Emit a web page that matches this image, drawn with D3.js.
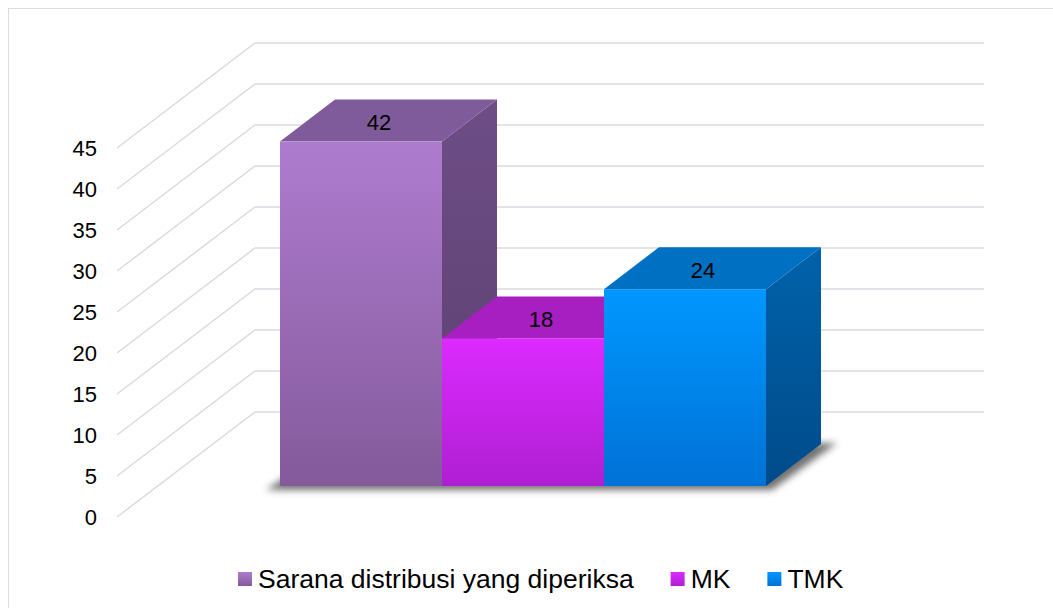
<!DOCTYPE html>
<html>
<head>
<meta charset="utf-8">
<script src="https://cdn.jsdelivr.net/npm/d3@7/dist/d3.min.js"></script>
<style>
  html, body { margin: 0; padding: 0; background: #fff; }
  svg { display: block; font-family: "Liberation Sans", Arial, sans-serif; }
</style>
</head>
<body>
<svg id="chart" width="1053" height="608"></svg>
<script>
// ---- data ----
const categories = ["Sarana distribusi yang diperiksa", "MK", "TMK"];
const values = [42, 18, 24];
const yTicks = [0, 5, 10, 15, 20, 25, 30, 35, 40, 45];

// ---- styling ----
const palette = [
  { front: ["#AE7CCF", "#845A9B"], top: "#805B9B", side: ["#6E4D86", "#5B406F"] },
  { front: ["#DC2AFF", "#AE1FD2"], top: "#A71EC1", side: ["#8C17A6", "#70118A"] },
  { front: ["#0097FF", "#0072D6"], top: "#0071C2", side: ["#0062AA", "#004B8A"] }
];

const svg = d3.select("#chart");
const defs = svg.append("defs");

// border
svg.append("rect").attr("x", 8.5).attr("y", 8.5).attr("width", 1100).attr("height", 700)
  .attr("fill", "none").attr("stroke", "#DCDCE2").attr("stroke-width", 1);

// scales
const h = d3.scaleLinear().domain([0, 45]).range([0, 369]);     // height in px
const wallFrontX = 117, wallBackX = 255, wallRightX = 984;
const wallFrontY0 = 517, wallBackY0 = 412;
const barFrontY0 = 486;
const barDepth = { dx: 55, dy: -42 };
const x = d3.scaleBand().domain(categories).range([280, 766]).padding(0);

// gridlines (side wall diagonal + back wall horizontal)
const grid = svg.append("g");
yTicks.forEach(t => {
  const yf = wallFrontY0 - h(t), yb = wallBackY0 - h(t);
  grid.append("path")
    .attr("d", `M${wallFrontX},${yf}L${wallBackX},${yb}L${wallRightX},${yb}`)
    .attr("fill", "none").attr("stroke", "#DADAE2").attr("stroke-width", 1.5);
});

// y tick labels
svg.append("g").selectAll("text").data(yTicks).join("text")
  .attr("x", 97).attr("y", d => wallFrontY0 - h(d))
  .attr("text-anchor", "end").attr("dominant-baseline", "central")
  .attr("font-size", 22).attr("fill", "#000").text(d => d);

// gradients
palette.forEach((p, i) => {
  const gf = defs.append("linearGradient").attr("id", "gf" + i)
    .attr("x1", 0).attr("y1", 0).attr("x2", 0).attr("y2", 1);
  gf.append("stop").attr("offset", "0%").attr("stop-color", p.front[0]);
  gf.append("stop").attr("offset", "100%").attr("stop-color", p.front[1]);
  const gs = defs.append("linearGradient").attr("id", "gs" + i)
    .attr("x1", 0).attr("y1", 0).attr("x2", 0).attr("y2", 1);
  gs.append("stop").attr("offset", "0%").attr("stop-color", p.side[0]);
  gs.append("stop").attr("offset", "100%").attr("stop-color", p.side[1]);
});

// shadow
const blur = defs.append("filter").attr("id", "blur").attr("x", "-20%").attr("y", "-50%")
  .attr("width", "140%").attr("height", "200%");
blur.append("feGaussianBlur").attr("stdDeviation", 3.5);
const x0 = x.range()[0], x1 = x.range()[1];
svg.append("path")
  .attr("d", `M${x0 - 14},${barFrontY0 + 4}L${x1 + 6},${barFrontY0 + 4}L${x1 + barDepth.dx + 16},${barFrontY0 + barDepth.dy - 1}L${x0 + barDepth.dx},${barFrontY0 + barDepth.dy - 1}Z`)
  .attr("fill", "#444").attr("opacity", 0.75).attr("filter", "url(#blur)");

// bars
const bars = svg.append("g");
categories.forEach((c, i) => {
  const v = values[i];
  const xl = x(c), xr = x(c) + x.bandwidth();
  const yt = barFrontY0 - h(v), yb = barFrontY0;
  const { dx, dy } = barDepth;
  const g = bars.append("g");
  // side
  g.append("path").attr("d", `M${xr},${yt}L${xr + dx},${yt + dy}L${xr + dx},${yb + dy}L${xr},${yb}Z`)
    .attr("fill", `url(#gs${i})`);
  // top
  g.append("path").attr("d", `M${xl},${yt}L${xl + dx},${yt + dy}L${xr + dx},${yt + dy}L${xr},${yt}Z`)
    .attr("fill", palette[i].top);
  // front
  g.append("rect").attr("x", xl).attr("y", yt).attr("width", xr - xl).attr("height", yb - yt)
    .attr("fill", `url(#gf${i})`);
});

// data labels
svg.append("g").selectAll("text").data(categories).join("text")
  .attr("x", (d) => x(d) + x.bandwidth() / 2 + 18)
  .attr("y", (d, i) => barFrontY0 - h(values[i]) - 19)
  .attr("text-anchor", "middle").attr("dominant-baseline", "central")
  .attr("font-size", 22).attr("fill", "#000").text((d, i) => values[i]);

// legend
const legend = svg.append("g");
let lx = 238;
const ly = 572;
categories.forEach((c, i) => {
  legend.append("rect").attr("x", lx).attr("y", ly).attr("width", 14).attr("height", 14)
    .attr("fill", `url(#gf${i})`);
  const t = legend.append("text").attr("x", lx + 20).attr("y", ly + 16)
    .attr("font-size", 26.5).attr("fill", "#000").text(c);
  const w = t.node().getComputedTextLength();
  lx = lx + 20 + w + 37;
});
</script>
</body>
</html>
